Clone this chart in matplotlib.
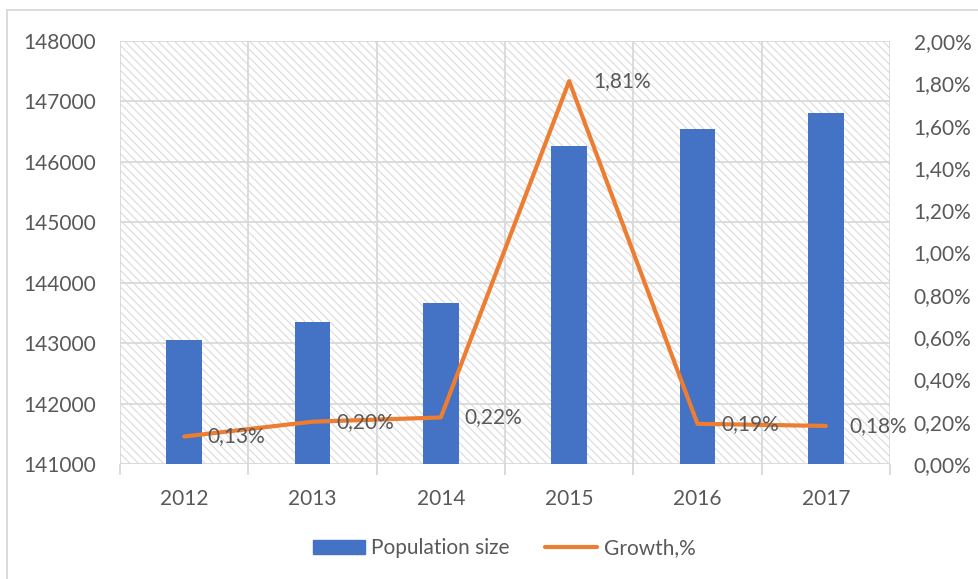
import matplotlib
matplotlib.use("Agg")
import matplotlib.pyplot as plt
from matplotlib.lines import Line2D
from matplotlib.ticker import FuncFormatter, FixedLocator

years = ["2012", "2013", "2014", "2015", "2016", "2017"]
population = [143056, 143347, 143667, 146267, 146545, 146804]
growth = [0.0013, 0.0020, 0.0022, 0.0181, 0.0019, 0.0018]
left_ticks = [141000, 142000, 143000, 144000, 145000, 146000, 147000, 148000]
right_ticks = [0.0, 0.002, 0.004, 0.006, 0.008, 0.010, 0.012, 0.014, 0.016, 0.018, 0.020]

BAR = "#4472C4"
LINE = "#ED7D31"
GRID = "#D9D9D9"
TXT = "#595959"
FS = 15

plt.rcParams["font.family"] = ["Lato", "DejaVu Sans"]
plt.rcParams["hatch.linewidth"] = 0.7
plt.rcParams["hatch.color"] = "#D6D6D6"

fig = plt.figure(figsize=(9.79, 5.79), dpi=100)
ax = fig.add_axes([120/979, 1-464/579, (890-120)/979, (464-41)/579])

x = list(range(len(years)))
ax.patch.set_facecolor("white")
ax.patch.set_hatch("\\\\\\\\")
ax.patch.set_edgecolor("#D6D6D6")
ax.patch.set_linewidth(0)

ax.bar(x, population, width=0.28, color=BAR, zorder=3, label="Population size")
ax.set_ylim(141000, 148000)
ax.set_xlim(-0.5, 5.5)
ax.yaxis.set_major_locator(FixedLocator(left_ticks))
ax.set_xticks(x)
ax.set_xticklabels(years)
ax.set_xticks([i - 0.5 for i in range(len(years) + 1)], minor=True)
ax.grid(axis="y", which="major", color=GRID, linewidth=1.3, zorder=1)
ax.grid(axis="x", which="minor", color=GRID, linewidth=1.3, zorder=1)
ax.set_axisbelow(True)
ax.tick_params(axis="x", which="major", length=0, pad=18, labelsize=FS, labelcolor=TXT)
ax.tick_params(axis="x", which="minor", length=8, color=GRID, width=1.3)
ax.tick_params(axis="y", length=0, pad=17, labelsize=FS, labelcolor=TXT)
for s in ax.spines.values():
    s.set_visible(False)

ax2 = ax.twinx()
ax2.plot(x, growth, color=LINE, linewidth=3, solid_capstyle="round", zorder=4, label="Growth,%")
ax2.set_ylim(0, 0.02)
ax2.yaxis.set_major_locator(FixedLocator(right_ticks))
ax2.yaxis.set_major_formatter(FuncFormatter(lambda v, p: f"{v*100:.2f}%".replace(".", ",")))
ax2.tick_params(axis="y", length=0, pad=17, labelsize=FS, labelcolor=TXT)
for s in ax2.spines.values():
    s.set_visible(False)

for xi, g in zip(x, growth):
    ax2.annotate(f"{g*100:.2f}%".replace(".", ","), (xi, g), xytext=(17, 0),
                 textcoords="offset points", ha="left", va="center",
                 fontsize=FS, color=TXT, zorder=5)

handles = [plt.Rectangle((0, 0), 1, 1, color=BAR),
           Line2D([0], [0], color=LINE, linewidth=3, solid_capstyle="round")]
fig.legend(handles, ["Population size", "Growth,%"], loc="center",
           bbox_to_anchor=(0.515, 1-548/579), ncol=2, frameon=False,
           fontsize=FS, labelcolor=TXT, handlelength=2.5, handleheight=0.65,
           columnspacing=1.7, handletextpad=0.3)

fig.add_artist(Line2D([7/979, 7/979], [0, 1-10/579], transform=fig.transFigure, color=GRID, linewidth=1.3))
fig.add_artist(Line2D([7/979, 1], [1-10/579, 1-10/579], transform=fig.transFigure, color=GRID, linewidth=1.3))

fig.savefig("out.png", dpi=100)
